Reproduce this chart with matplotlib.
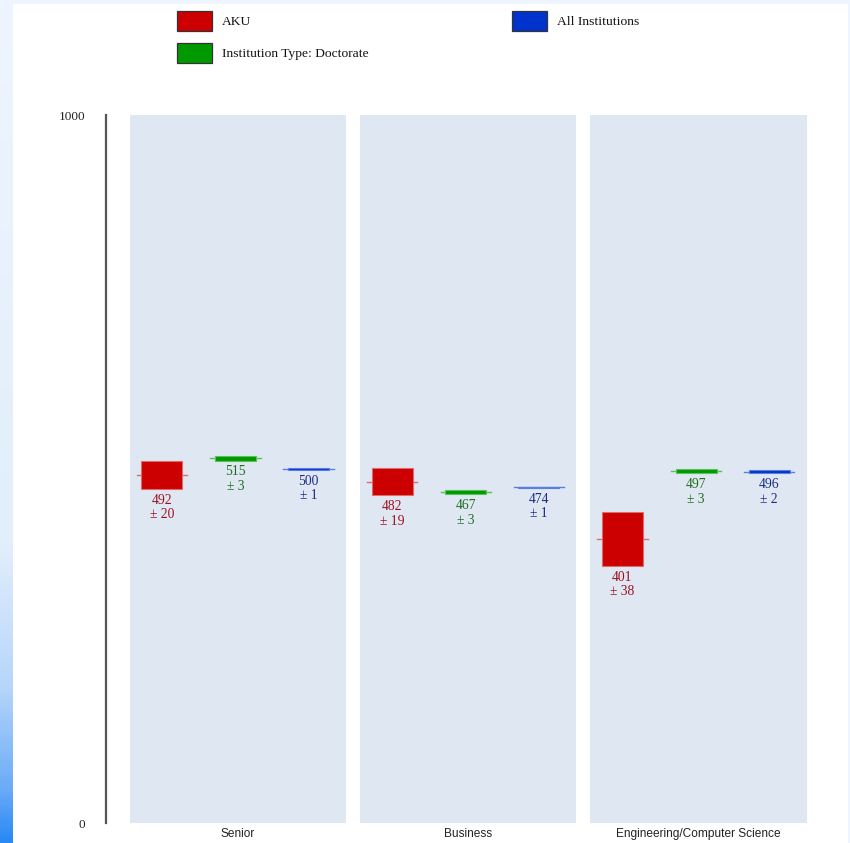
import numpy as np
import matplotlib
matplotlib.use("Agg")
import matplotlib.pyplot as plt
from matplotlib.patches import Rectangle
from matplotlib.colors import LinearSegmentedColormap

# Scores by category and comparison group
categories = ["Senior", "Business", "Engineering/Computer Science"]
series_names = ["AKU", "Institution Type: Doctorate", "All Institutions"]
aku_mean = [492, 482, 401]
aku_ci = [20, 19, 38]
doc_mean = [515, 467, 497]
doc_ci = [3, 3, 3]
all_mean = [500, 474, 496]
all_ci = [1, 1, 2]
y_ticks = [0, 1000]
y_tick_labels = ["0", "1000"]

means = [aku_mean, doc_mean, all_mean]
cis = [aku_ci, doc_ci, all_ci]
fill_colors = ["#cc0000", "#009900", "#0033cc"]
edge_colors = ["#e06a6a", "#5cbf5c", "#5c7ee0"]
text_colors = ["#9e1020", "#1f6e1f", "#1c2c84"]
offsets = [-0.331, -0.010, 0.307]

W, H = 850, 843
fig = plt.figure(figsize=(W / 100, H / 100), dpi=100)
fig.patch.set_facecolor("white")

# page frame: pale border with a blue gradient down the left edge
bg = fig.add_axes([0, 0, 1, 1], zorder=-10)
grad_cmap = LinearSegmentedColormap.from_list(
    "edge", [(0, "#eef5fe"), (0.65, "#e2eefc"), (0.82, "#b5d5fb"),
             (0.94, "#6aaaf8"), (1.0, "#2a8af5")])
bg.add_patch(Rectangle((0, 0), W, H, color="#eef5fe", lw=0, zorder=0))
bg.add_patch(Rectangle((13, 4), 835, H - 4, color="white", lw=0, zorder=1))
bg.imshow(np.linspace(0, 1, 300).reshape(-1, 1), cmap=grad_cmap,
          extent=(0, 13, H, 0), aspect="auto", interpolation="bilinear", zorder=2)
bg.set_xlim(0, W)
bg.set_ylim(H, 0)
bg.axis("off")

# main plotting area
x_left, x_right = -0.574, 2.48
px_left = 106
px_right = 698.5 + (x_right - 2) * 230
ax = fig.add_axes([px_left / W, (H - 823) / H, (px_right - px_left) / W, (823 - 115) / H])
ax.set_xlim(x_left, x_right)
ax.set_ylim(0, 1000)
ax.set_facecolor("none")
for s in ["top", "right", "bottom"]:
    ax.spines[s].set_visible(False)
ax.spines["left"].set_color("#555555")
ax.spines["left"].set_linewidth(1.6)

panel_half = 0.4696
box_w = 0.178
whisk_w = 0.22
for i, cat in enumerate(categories):
    ax.add_patch(Rectangle((i - panel_half, 0), 2 * panel_half, 1000,
                           facecolor="#dfe8f2", edgecolor="none", zorder=0))
    for k in range(3):
        m = means[k][i]
        c = cis[k][i]
        xc = i + offsets[k]
        ax.add_patch(Rectangle((xc - box_w / 2, m - c), box_w, 2 * c,
                               facecolor=fill_colors[k], edgecolor=edge_colors[k],
                               lw=0.8, zorder=3))
        ax.plot([xc - whisk_w / 2, xc + whisk_w / 2], [m, m],
                color=edge_colors[k], lw=1.0, zorder=2)
        ax.annotate(f"{m}\n± {c}", xy=(xc, m - c), xytext=(0, -3.5),
                    textcoords="offset points", ha="center", va="top",
                    fontsize=9.8, family="Liberation Serif", color=text_colors[k],
                    linespacing=1.15, zorder=4)

ax.set_xticks(range(len(categories)))
ax.set_xticklabels(categories, family="Liberation Sans", fontsize=8.6, color="#222222")
ax.tick_params(axis="x", length=0, pad=3.5)
ax.set_yticks(y_ticks)
ax.set_yticklabels(y_tick_labels, family="Liberation Serif", fontsize=9.5, color="#222222")
ax.tick_params(axis="y", length=0, pad=15)

# legend drawn as swatches in pixel space
leg = fig.add_axes([0, 0, 1, 1], zorder=5)
leg.set_xlim(0, W)
leg.set_ylim(H, 0)
leg.axis("off")
legend_pos = [(177, 11), (177, 43), (512, 11)]
for k, name in enumerate(series_names):
    lx, ly = legend_pos[k]
    leg.add_patch(Rectangle((lx, ly), 35, 20, facecolor=fill_colors[k],
                            edgecolor="#333333", lw=0.9))
    leg.text(lx + 45, ly + 11, name, va="center", ha="left",
             family="Liberation Serif", fontsize=9.7, color="#111111")

fig.savefig("out.png", dpi=100)
